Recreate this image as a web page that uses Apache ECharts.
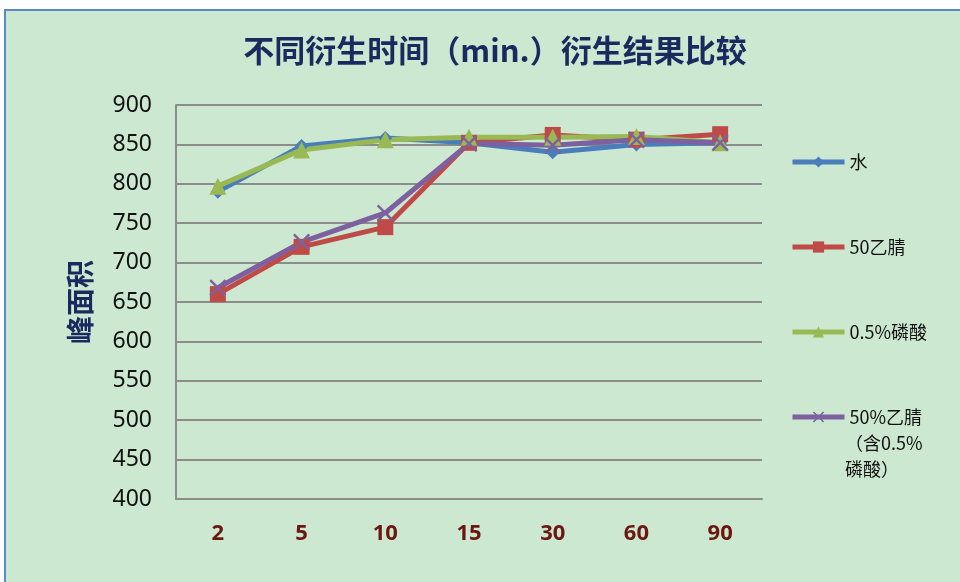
<!DOCTYPE html>
<html>
<head>
<meta charset="utf-8">
<script src="https://cdn.jsdelivr.net/npm/echarts@6/dist/echarts.min.js"></script>
<style>
  html, body { margin: 0; padding: 0; background: #ffffff; }
  #chart { width: 960px; height: 582px; }
</style>
</head>
<body>
<div id="chart"></div>
<script>
// Derivatization time (min.) on the category axis
const categories = ['2', '5', '10', '15', '30', '60', '90'];

// Peak area for each derivatization solvent
const water = [790, 848, 858, 852, 840, 850, 852];
const acn50 = [660, 720, 745, 852, 862, 856, 863];
const phos05 = [797, 843, 856, 859, 859, 860, 852];
const acn50phos = [668, 726, 763, 851, 849, 856, 852];

const seriesNames = ['水', '50乙腈', '0.5%磷酸', '50%乙腈（含0.5%磷酸）'];
const yTicks = { min: 400, max: 900, interval: 50 };

const colors = ['#4a7ebb', '#be4b48', '#98b954', '#7d60a0'];
const crossPath = 'path://M0,1L1,0L5,4L9,0L10,1L6,5L10,9L9,10L5,6L1,10L0,9L4,5Z';
const symbols = ['diamond', 'rect', 'triangle', crossPath];
const symbolSizes = [14, 16, 17, 17];
const seriesData = [water, acn50, phos05, acn50phos];

const chart = echarts.init(document.getElementById('chart'));

const legendTops = [149, 234, 319, 404];
const legends = seriesNames.map((name, i) => ({
  data: [name],
  left: 790,
  top: legendTops[i],
  padding: 0,
  itemWidth: 52,
  itemHeight: 14,
  itemGap: 4,
  lineStyle: { width: 5 },
  textStyle: { fontSize: 18, color: '#111', fontFamily: 'Noto Sans CJK SC', lineHeight: 26 },
  formatter: n => n === '50%乙腈（含0.5%磷酸）' ? '50%乙腈' : n
}));

chart.setOption({
  backgroundColor: '#ffffff',
  animation: false,
  color: colors,
  graphic: [
    {
      type: 'rect', z: -10, silent: true,
      shape: { x: 5, y: 10, width: 1000, height: 620 },
      style: { fill: '#cde8d0', stroke: '#5a8ac4', lineWidth: 2 }
    },
    {
      type: 'text', left: 845, top: 430,
      style: { text: '（含0.5%\n磷酸）', fontSize: 18, lineHeight: 26, fill: '#111', fontFamily: 'Noto Sans CJK SC' }
    }
  ],
  title: {
    text: '不同衍生时间（min.）衍生结果比较',
    left: 490, top: 30, textAlign: 'center',
    textStyle: { fontSize: 31, fontWeight: 'bold', color: '#1b2a5e', fontFamily: 'Noto Sans CJK SC' }
  },
  legend: legends,
  grid: { left: 176, right: 198, top: 105, bottom: 83 },
  xAxis: {
    type: 'category',
    data: categories,
    boundaryGap: true,
    axisLine: { lineStyle: { color: '#8c8c8c', width: 2 } },
    axisTick: { show: false },
    axisLabel: { margin: 24, fontSize: 22, fontWeight: 'bold', color: '#6b1710', fontFamily: 'Noto Sans' }
  },
  yAxis: {
    type: 'value',
    min: yTicks.min, max: yTicks.max, interval: yTicks.interval,
    name: '峰面积',
    nameLocation: 'middle',
    nameRotate: 90,
    nameGap: 82,
    nameTextStyle: { fontSize: 28, fontWeight: 'bold', color: '#1b2a5e', fontFamily: 'Noto Sans CJK SC' },
    axisLine: { show: true, lineStyle: { color: '#8c8c8c', width: 2 } },
    axisTick: { show: false },
    splitLine: { lineStyle: { color: '#8c8c8c', width: 2 } },
    axisLabel: { margin: 24, fontSize: 23, color: '#111', fontFamily: 'Noto Sans' }
  },
  series: seriesNames.map((name, i) => ({
    name,
    type: 'line',
    data: seriesData[i],
    symbol: symbols[i],
    symbolSize: symbolSizes[i],
    lineStyle: { width: 5, color: colors[i] },
    itemStyle: { color: colors[i] }
  }))
});
</script>
</body>
</html>
